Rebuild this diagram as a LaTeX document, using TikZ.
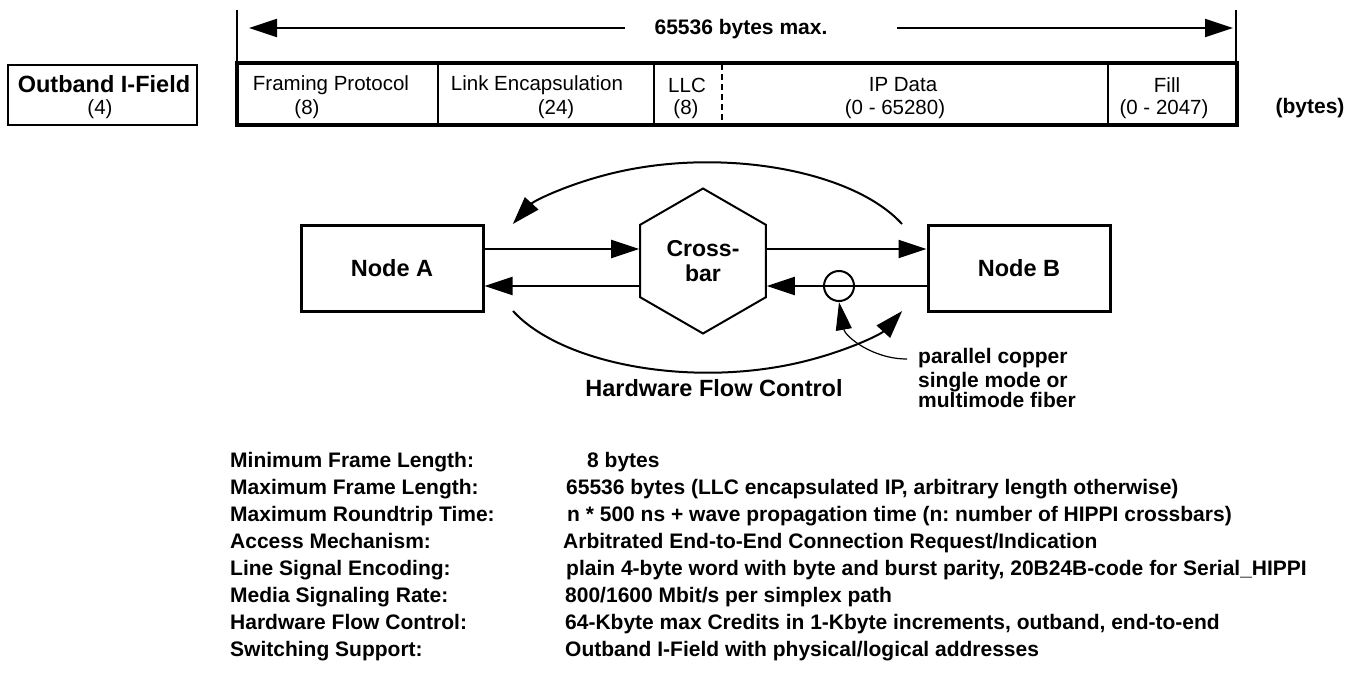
\documentclass[tikz,border=0pt]{standalone}
\usepackage{fontspec}
\setmainfont{Liberation Sans}
\usetikzlibrary{arrows.meta,shapes.geometric,positioning}
\frenchspacing

\begin{document}
\begin{tikzpicture}[
    x=1pt, y=-1pt,
    every node/.style={font=\fontsize{20.5}{24}\selectfont, inner sep=0pt},
    lbl/.style={font=\fontsize{21}{24}\selectfont\bfseries, text height=14pt, text depth=4pt},
    big/.style={font=\fontsize{23.5}{27}\selectfont\bfseries},
    box/.style={draw, line width=3pt, minimum width=182pt, minimum height=86pt, big},
    arr/.style={-{Triangle[length=28pt, width=18pt]}, line width=2pt},
    ptr/.style={-{Triangle[length=28pt, width=16pt]}, line width=1.2pt}
]
\useasboundingbox (0,0) rectangle (1351,677);

% frame layout
\draw[line width=2pt] (237,10) -- (237,63);
\draw[line width=2pt] (1236,10) -- (1236,63);
\node[lbl] (max) at (741,30) {65536 bytes max.};
\coordinate (la) at (625,28);
\coordinate (lt) at (249,28);
\coordinate (ra) at (897,28);
\coordinate (rt) at (1233,28);
\draw[arr] (la) -- (lt);
\draw[arr] (ra) -- (rt);

\node[draw, line width=2pt, minimum width=189pt, minimum height=60pt] (ob) at (102,95) {};
\node[big] (ob-t) at (104,84) {Outband I-Field};
\node (ob-n) at (100,109) {(4)};
\node[draw, line width=3.5pt, minimum width=1000pt, minimum height=62pt] (frm) at (737,94) {};
\foreach \x in {438,654,1108}
    \draw[line width=2pt] (\x,64) -- (\x,124);
\draw[line width=2pt, dash pattern=on 6pt off 4pt] (722,64) -- (722,124);

\node (fp) at (331,85) {Framing Protocol};
\node (fp-n) at (307,109) {(8)};
\node (le) at (537,85) {Link Encapsulation};
\node (le-n) at (556,109) {(24)};
\node (llc) at (687,85) {LLC};
\node (llc-n) at (686,109) {(8)};
\node (ip) at (903,85) {IP Data};
\node (ip-n) at (895,109) {(0 - 65280)};
\node (fill) at (1167,85) {Fill};
\node (fill-n) at (1164,109) {(0 - 2047)};
\node[lbl] (unit) at (1310,108) {(bytes)};

% HIPPI link
\node[box] (na) at (392,268) {Node A};
\node[box] (nb) at (1019,268) {Node B};
\node[draw, line width=2pt, regular polygon, regular polygon sides=6, shape border rotate=30,
      minimum size=145pt, align=center, font=\fontsize{23}{25}\selectfont\bfseries] (xbar) at (703,261) {Cross-\\bar};

\path (na.east) ++(0,-19) coordinate (a1);
\path (na.east) ++(0,18) coordinate (a2);
\path (nb.west) ++(0,-19) coordinate (b1);
\path (nb.west) ++(0,18) coordinate (b2);
\draw[arr] (a1) -- (a1 -| xbar.west);
\draw[arr] (a2 -| xbar.west) -- (a2);
\draw[arr] (b1 -| xbar.east) -- (b1);
\draw[arr] (b2) -- (b2 -| xbar.east);
\node[draw, circle, line width=2pt, minimum size=30pt] (tap) at (839,286) {};

\coordinate (hr) at (902,224);
\coordinate (hl) at (513,311);
\draw[arr] (hr) arc[start angle=24, end angle=156, x radius=213pt, y radius=104pt];
\draw[arr] (hl) arc[start angle=204, end angle=336, x radius=213pt, y radius=104pt];
\node[big] (hfc) at (714,388) {Hardware Flow Control};

\node[lbl, anchor=west] (pc) at (918,358) {parallel copper};
\node[anchor=north west, align=left, font=\fontsize{21}{20}\selectfont\bfseries] (fib) at (918,372) {single mode or\\multimode fiber};
\coordinate (pe) at (907,359);
\draw[ptr] (pe) to[out=180, in=-80] (tap.south);

% characteristics
\foreach \k/\v/\vx [count=\i from 0] in {
    {Minimum Frame Length:}/{8 bytes}/587,
    {Maximum Frame Length:}/{65536 bytes (LLC encapsulated IP, arbitrary length otherwise)}/566,
    {Maximum Roundtrip Time:}/{n * 500 ns + wave propagation time (n: number of HIPPI crossbars)}/567,
    {Access Mechanism:}/{Arbitrated End-to-End Connection Request/Indication}/563,
    {Line Signal Encoding:}/{plain 4-byte word with byte and burst parity, 20B24B-code for Serial\_HIPPI}/566,
    {Media Signaling Rate:}/{800/1600 Mbit/s per simplex path}/565,
    {Hardware Flow Control:}/{64-Kbyte max Credits in 1-Kbyte increments, outband, end-to-end}/565,
    {Switching Support:}/{Outband I-Field with physical/logical addresses}/565}{
    \node[lbl, anchor=west] (k\i) at (230,{462+27*\i}) {\k};
    \node[lbl, anchor=west] (v\i) at (\vx,{462+27*\i}) {\v};
}
\end{tikzpicture}
\end{document}
